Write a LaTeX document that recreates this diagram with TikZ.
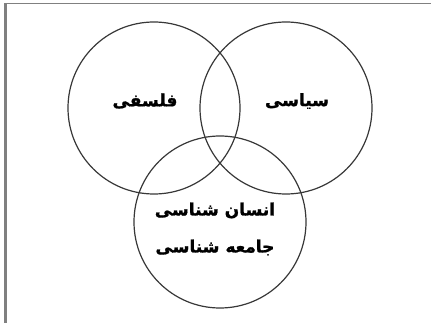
\documentclass[tikz,border=0pt]{standalone}
\usepackage{fontspec}
\newfontfamily\arabicfont[Script=Arabic,BoldFeatures={FakeBold=1.2}]{DejaVu Sans}
\TeXXeTstate=1
\begin{document}
\begin{tikzpicture}[x=1pt,y=-1pt,
  ring/.style={draw=black!78,line width=1.2pt},
  word/.style={font=\arabicfont\bfseries\fontsize{17}{37}\selectfont,align=center,inner sep=0pt}]
\useasboundingbox (0,0) rectangle (431,323);
\draw[black!50,line width=2.2pt] (5.5,323)--(5.5,3.5);
\draw[black!50,line width=1.5pt] (4.4,3.5)--(431,3.5);
\foreach \cx/\cy in {154/108,286/108,220/222}
  \draw[ring] (\cx,\cy) circle (86);
\node[word] (falsafi) at (145,101) {\beginR فلسفی\endR};
\node[word] (siasi) at (297,101) {\beginR سیاسی\endR};
\node[word] (ensan) at (215,229) {\beginR انسان شناسی\endR\\\beginR جامعه شناسی\endR};
\end{tikzpicture}
\end{document}
